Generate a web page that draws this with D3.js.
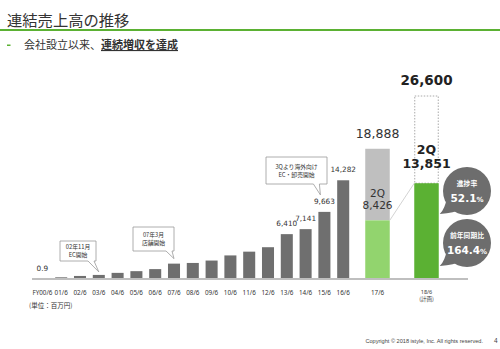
<!DOCTYPE html>
<html><head><meta charset="utf-8">
<script src="https://cdn.jsdelivr.net/npm/d3@7"></script>
<style>
html,body{margin:0;padding:0;background:#fff;}
svg{display:block;}
</style></head>
<body>
<svg id="c" width="500" height="349"></svg>
<script>
// ---- data ----
const histCategories = ["FY00/6","01/6","02/6","03/6","04/6","05/6","06/6","07/6","08/6","09/6","10/6","11/6","12/6","13/6","14/6","15/6","16/6"];
const histValues = [0.9, 100, 300, 450, 750, 1000, 1300, 2100, 2200, 2550, 3300, 3850, 4500, 6410, 7141, 9663, 14282];
const labeledHist = {"FY00/6":"0.9","13/6":"6,410","14/6":"7,141","15/6":"9,663","16/6":"14,282"};
const fcCategories = ["17/6","18/6"];
const fcTotals = [18888, 26600];
const fc2Q = [8426, 13851];
const fcTotalLabels = ["18,888","26,600"];
const fc2QLabels = ["8,426","13,851"];
const callouts = [
  {cat:"03/6", lines:["02年11月","EC開始"]},
  {cat:"07/6", lines:["07年3月","店舗開始"]},
  {cat:"15/6", lines:["3Qより海外向け","EC・卸売開始"]}
];
const bubbles = [
  {label:"進捗率", value:"52.1", unit:"%"},
  {label:"前年同期比", value:"164.4", unit:"%"}
];

const svg = d3.select("#c");
const JP = "'Noto Sans CJK JP', sans-serif";
const NUM = "'DejaVu Sans', Verdana, sans-serif";
const SMALL = "'Noto Sans', 'Open Sans', sans-serif";

// ---- header ----
svg.append("text").attr("x",7).attr("y",26).attr("font-family",JP).attr("font-size",15.3)
  .attr("fill","#333").text("連結売上高の推移");
svg.append("line").attr("x1",0).attr("x2",500).attr("y1",30).attr("y2",30)
  .attr("stroke","#5bb133").attr("stroke-width",2);
svg.append("rect").attr("x",7).attr("y",44.5).attr("width",3.5).attr("height",1.5).attr("fill","#5bb133");
const sub = svg.append("text").attr("x",24).attr("y",49).attr("font-family",JP).attr("font-size",11).attr("fill","#333");
sub.append("tspan").text("会社設立以来、");
sub.append("tspan").attr("font-weight","bold").attr("text-decoration","underline").text("連続増収を達成");

// ---- scales ----
const y = d3.scaleLinear().domain([0, 26600]).range([278, 96]);
const xh = d3.scaleBand().domain(histCategories).range([33, 352.6]).paddingInner(0.36).paddingOuter(0.18);
const xf = d3.scaleBand().domain(fcCategories).range([353, 451]).paddingInner(0.5).paddingOuter(0.25);

// axis baseline
svg.append("line").attr("x1",32).attr("x2",468).attr("y1",279).attr("y2",279)
  .attr("stroke","#bfbfbf").attr("stroke-width",2);

// historical bars
svg.append("g").selectAll("rect").data(histCategories).join("rect")
  .attr("x",d=>xh(d)).attr("width",xh.bandwidth())
  .attr("y",(d,i)=>y(histValues[i])).attr("height",(d,i)=>y(0)-y(histValues[i]))
  .attr("fill","#6f6f6f");

// historical labels
svg.append("g").selectAll("text").data(histCategories.filter(c=>labeledHist[c])).join("text")
  .attr("x",d=>xh(d)+xh.bandwidth()/2)
  .attr("y",d=>{const v=histValues[histCategories.indexOf(d)]; return d==="FY00/6"? 271 : y(v)-8;})
  .attr("text-anchor","middle").attr("font-family",NUM).attr("font-size",7.3).attr("fill","#333")
  .text(d=>labeledHist[d]);

// x labels
const xl = svg.append("g").attr("font-family",SMALL).attr("font-size",6.3).attr("fill","#333").attr("text-anchor","middle");
xl.selectAll("text.h").data(histCategories).join("text").attr("class","h")
  .attr("x",d=>xh(d)+xh.bandwidth()/2).attr("y",295).text(d=>d);
xl.append("text").attr("x",xf("17/6")+xf.bandwidth()/2).attr("y",295).text("17/6");
xl.append("text").attr("x",xf("18/6")+xf.bandwidth()/2).attr("y",294).attr("font-size",5.5).text("18/6");
xl.append("text").attr("x",xf("18/6")+xf.bandwidth()/2).attr("y",301).attr("font-size",5.5).attr("font-family",JP).text("(計画)");

svg.append("text").attr("x",29).attr("y",308).attr("font-family",JP).attr("font-size",6.5).attr("fill","#333").text("(単位：百万円)");

// forecast bars
const bw = xf.bandwidth();
const x17 = xf("17/6"), x18 = xf("18/6");
svg.append("rect").attr("x",x17).attr("width",bw).attr("y",y(fcTotals[0])).attr("height",y(fc2Q[0])-y(fcTotals[0])).attr("fill","#bfbfbf");
svg.append("rect").attr("x",x17).attr("width",bw).attr("y",y(fc2Q[0])).attr("height",y(0)-y(fc2Q[0])).attr("fill","#92d46e");
svg.append("rect").attr("x",x18+0.5).attr("width",bw-1).attr("y",y(fcTotals[1])).attr("height",y(fc2Q[1])-y(fcTotals[1]))
  .attr("fill","#fff").attr("stroke","#aaa").attr("stroke-width",1).attr("stroke-dasharray","1.5,1.5");
svg.append("rect").attr("x",x18).attr("width",bw).attr("y",y(fc2Q[1])).attr("height",y(0)-y(fc2Q[1])).attr("fill","#5bb133");
svg.append("line").attr("x1",x17+bw).attr("y1",y(fc2Q[0])).attr("x2",x18).attr("y2",y(fc2Q[1]))
  .attr("stroke","#c8c8c8").attr("stroke-width",0.8);

// forecast labels
svg.append("text").attr("x",x17+bw/2).attr("y",y(fcTotals[0])-11).attr("text-anchor","middle")
  .attr("font-family",NUM).attr("font-size",12.5).attr("fill","#333").text(fcTotalLabels[0]);
svg.append("text").attr("x",x18+bw/2).attr("y",y(fcTotals[1])-11).attr("text-anchor","middle")
  .attr("font-family",NUM).attr("font-size",13.5).attr("font-weight","bold").attr("fill","#222").text(fcTotalLabels[1]);
svg.append("text").attr("x",x17+bw/2).attr("y",197).attr("text-anchor","middle").attr("font-family",NUM)
  .attr("font-size",10.5).attr("fill","#333").text("2Q");
svg.append("text").attr("x",x17+bw/2).attr("y",209).attr("text-anchor","middle").attr("font-family",NUM)
  .attr("font-size",10.5).attr("fill","#333").text(fc2QLabels[0]);
svg.append("text").attr("x",x18+bw/2).attr("y",154).attr("text-anchor","middle").attr("font-family",NUM)
  .attr("font-size",12.5).attr("font-weight","bold").attr("fill","#222").text("2Q");
svg.append("text").attr("x",x18+bw/2).attr("y",168).attr("text-anchor","middle").attr("font-family",NUM)
  .attr("font-size",12.5).attr("font-weight","bold").attr("fill","#222").text(fc2QLabels[1]);

// callout boxes
function callout(tipX, tipY, x0, y0, w, h, lines, fs){
  const g = svg.append("g");
  const b1 = Math.min(x0+w-2, tipX-1), b0 = b1-6;
  const path = `M${x0},${y0} H${x0+w} V${y0+h} H${b1} L${tipX},${tipY} L${b0},${y0+h} H${x0} Z`;
  g.append("path").attr("d",path).attr("fill","#fff").attr("stroke","#999").attr("stroke-width",0.8);
  const lh = fs*1.35;
  lines.forEach((l,i)=>g.append("text").attr("text-anchor","middle").attr("font-family",JP).attr("font-size",fs).attr("fill","#333")
    .attr("x",x0+w/2).attr("y",y0+h/2 - (lines.length-1)*lh/2 + i*lh + fs*0.36).text(l));
}
const cx = c => xh(c.cat)+xh.bandwidth()/2, cv = c => y(histValues[histCategories.indexOf(c.cat)]);
callout(cx(callouts[0]), cv(callouts[0])-3, 60, 241, 36, 20, callouts[0].lines, 5.8);
callout(cx(callouts[1]), cv(callouts[1])-5, 133, 227, 41, 24, callouts[1].lines, 5.8);
callout(cx(callouts[2])-4, cv(callouts[2])-17, 266, 157, 61, 27, callouts[2].lines, 5.8);

// bubbles
const bcx = 467, bcy = [191, 243], br = 24;
bubbles.forEach((b,i)=>{
  const g = svg.append("g");
  const cy = bcy[i];
  g.append("path").attr("d",`M${bcx-20},${cy+6} Q${bcx-22},${cy+18} ${x18+bw+1},${cy+23} Q${bcx-12},${cy+22} ${bcx-6},${cy+18} Z`)
    .attr("fill","#6d6d6d");
  g.append("circle").attr("cx",bcx).attr("cy",cy).attr("r",br).attr("fill","#6d6d6d");
  g.append("text").attr("x",bcx).attr("y",cy-5).attr("text-anchor","middle").attr("font-family",JP)
    .attr("font-size",6.8).attr("font-weight","bold").attr("fill","#fff").text(b.label);
  const tv = g.append("text").attr("x",bcx).attr("y",cy+11).attr("text-anchor","middle").attr("font-family",NUM)
    .attr("font-weight","bold").attr("fill","#fff");
  tv.append("tspan").attr("font-size",10.5).text(b.value);
  tv.append("tspan").attr("font-size",7).text(b.unit);
});

// footer
svg.append("text").attr("x",483).attr("y",343).attr("text-anchor","end").attr("font-family","'Liberation Sans', Arial, sans-serif")
  .attr("font-size",5.6).attr("fill","#444").text("Copyright © 2018 istyle, Inc. All rights reserved.");
svg.append("text").attr("x",494).attr("y",343).attr("font-family","'Liberation Sans', Arial, sans-serif")
  .attr("font-size",6.5).attr("fill","#444").text("4");
</script>
</body></html>
